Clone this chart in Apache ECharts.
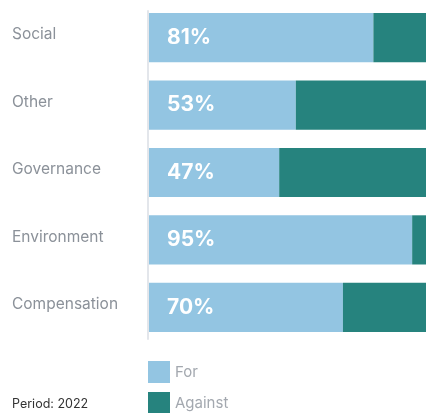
<!DOCTYPE html>
<html><head><meta charset="utf-8">
<script src="https://cdn.jsdelivr.net/npm/echarts@6/dist/echarts.min.js"></script>
<style>html,body{margin:0;padding:0;background:#fff;}#c{width:426px;height:413px;}</style>
</head><body><div id="c"></div>
<script>
const categories = ["Social", "Other", "Governance", "Environment", "Compensation"];
const forValues = [81, 53, 47, 95, 70];
const againstValues = [19, 47, 53, 5, 30];
const periodText = "Period: 2022";

const chart = echarts.init(document.getElementById('c'));
chart.setOption({
  animation: false,
  textStyle: { fontFamily: 'Inter' },
  grid: [
    { left: 149, right: 0, top: 4, height: 337 },
    { left: 148, right: 0, top: 11, height: 328 }
  ],
  xAxis: [
    { type: 'value', min: 0, max: 100, show: false, gridIndex: 0 },
    { type: 'value', min: 0, max: 100, show: false, gridIndex: 1 }
  ],
  yAxis: [
    {
      type: 'category', data: categories, inverse: true, gridIndex: 0,
      axisLine: { show: false },
      axisTick: { show: false },
      axisLabel: { align: 'left', verticalAlign: 'bottom', lineHeight: 6, margin: 137, color: '#8b9199', fontSize: 15.5, fontFamily: 'Inter' }
    },
    {
      type: 'value', min: 0, max: 1, gridIndex: 1,
      axisLine: { show: true, lineStyle: { color: '#e3e6eb', width: 2 } },
      axisTick: { show: false }, axisLabel: { show: false }, splitLine: { show: false }
    }
  ],
  legend: [
    {
      left: 148, top: 361, padding: 0, itemWidth: 22, itemHeight: 22, icon: 'rect', itemGap: 0,
      textStyle: { color: '#a3a8af', fontSize: 15, fontFamily: 'Inter' },
      data: ['For']
    },
    {
      left: 148, top: 392, padding: 0, itemWidth: 22, itemHeight: 22, icon: 'rect', itemGap: 0,
      textStyle: { color: '#a3a8af', fontSize: 15, fontFamily: 'Inter' },
      data: ['Against']
    }
  ],
  graphic: [{
    type: 'text', left: 12, top: 398,
    style: { text: periodText, fill: '#333', fontSize: 12.5, fontFamily: 'Inter' }
  }],
  series: [
    {
      name: 'For', type: 'bar', stack: 't', data: forValues, barCategoryGap: '27%',
      itemStyle: { color: '#93c5e2' },
      label: { show: true, position: 'insideLeft', distance: 18, formatter: '{c}%', color: '#fff', fontSize: 21, fontWeight: 'bold', fontFamily: 'Inter' }
    },
    {
      name: 'Against', type: 'bar', stack: 't', data: againstValues,
      itemStyle: { color: '#26837e' }
    }
  ]
});
</script></body></html>
